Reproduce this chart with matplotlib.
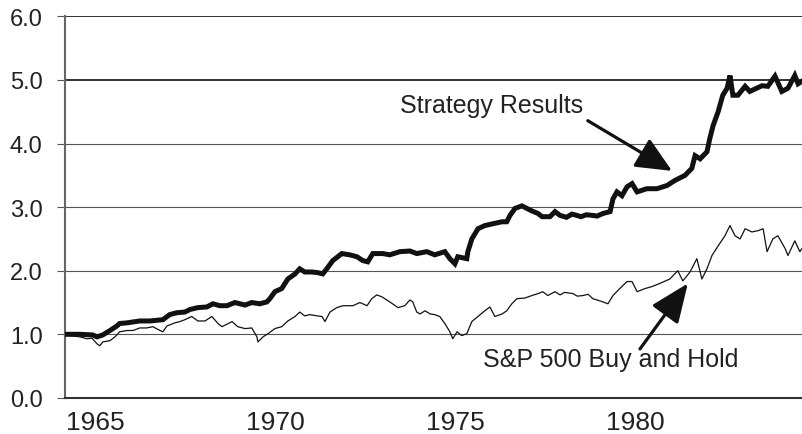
import matplotlib
matplotlib.use("Agg")
import matplotlib.pyplot as plt

# growth of $1, weekly closes sampled by hand
strat_year = [1964.17, 1964.58, 1964.94, 1965.06, 1965.22, 1965.42, 1965.61, 1965.69,
              1965.89, 1966.25, 1966.53, 1966.89, 1967.08, 1967.28, 1967.50, 1967.64,
              1967.86, 1968.11, 1968.28, 1968.47, 1968.67, 1968.89, 1969.17, 1969.36,
              1969.58, 1969.78, 1969.86, 1970.00, 1970.19, 1970.36, 1970.56, 1970.69,
              1970.83, 1971.03, 1971.19, 1971.33, 1971.44, 1971.61, 1971.86, 1972.08,
              1972.28, 1972.44, 1972.58, 1972.72, 1973.00, 1973.19, 1973.47, 1973.75,
              1973.94, 1974.22, 1974.44, 1974.72, 1974.86, 1975.00, 1975.08, 1975.33,
              1975.36, 1975.47, 1975.64, 1975.83, 1976.06, 1976.31, 1976.44, 1976.53,
              1976.67, 1976.86, 1977.14, 1977.31, 1977.42, 1977.64, 1977.78, 1977.92,
              1978.10, 1978.25, 1978.39, 1978.50, 1978.65, 1978.83, 1978.95, 1979.11,
              1979.31, 1979.39, 1979.50, 1979.64, 1979.78,
              1979.92, 1980.06, 1980.33, 1980.61, 1980.89, 1981.11, 1981.39, 1981.58,
              1981.67, 1981.81, 1982.00, 1982.08, 1982.17, 1982.31, 1982.44, 1982.56,
              1982.64, 1982.72, 1982.86, 1983.06, 1983.19, 1983.53, 1983.69, 1983.89,
              1984.08, 1984.25, 1984.44, 1984.53, 1984.64]
strat_value = [1.00, 1.00, 0.99, 0.96, 0.99, 1.06, 1.13, 1.17,
               1.18, 1.21, 1.21, 1.23, 1.31, 1.34, 1.35, 1.39,
               1.42, 1.43, 1.48, 1.45, 1.45, 1.50, 1.46, 1.50,
               1.48, 1.51, 1.56, 1.67, 1.72, 1.87, 1.95, 2.03,
               1.98, 1.98, 1.97, 1.95, 2.03, 2.16, 2.27, 2.25,
               2.22, 2.16, 2.14, 2.27, 2.27, 2.25, 2.30, 2.31,
               2.27, 2.30, 2.25, 2.30, 2.19, 2.11, 2.22, 2.19,
               2.30, 2.50, 2.66, 2.71, 2.74, 2.77, 2.77, 2.87,
               2.98, 3.02, 2.94, 2.90, 2.85, 2.85, 2.93, 2.87,
               2.84, 2.89, 2.87, 2.85, 2.88, 2.87, 2.86, 2.90,
               2.93, 3.13, 3.24, 3.18, 3.32,
               3.37, 3.24, 3.29, 3.29, 3.34, 3.42, 3.50, 3.61,
               3.81, 3.76, 3.87, 4.08, 4.28, 4.50, 4.76, 4.87,
               5.07, 4.76, 4.76, 4.90, 4.82, 4.91, 4.90, 5.06,
               4.82, 4.87, 5.07, 4.94, 4.98]

spx_year = [1964.17, 1964.31, 1964.58, 1964.78, 1964.92, 1965.06, 1965.14, 1965.22,
            1965.42, 1965.56, 1965.69, 1965.89, 1966.06, 1966.25, 1966.44, 1966.61,
            1966.81, 1966.89, 1967.00, 1967.22, 1967.36, 1967.50, 1967.69, 1967.86,
            1968.06, 1968.25, 1968.42, 1968.53, 1968.81, 1968.97, 1969.17, 1969.36,
            1969.50, 1969.53, 1969.67, 1969.81, 1970.00, 1970.19, 1970.36, 1970.56,
            1970.69, 1970.83, 1970.97, 1971.17, 1971.31, 1971.39, 1971.53, 1971.72,
            1971.89, 1972.17, 1972.36, 1972.56, 1972.69, 1972.83, 1972.97, 1973.19,
            1973.42, 1973.61, 1973.75, 1973.83, 1973.94, 1974.03, 1974.17, 1974.31,
            1974.44, 1974.58, 1974.72, 1974.86, 1974.94, 1975.06, 1975.19, 1975.33,
            1975.47, 1975.64, 1975.83, 1975.97, 1976.11, 1976.31, 1976.44, 1976.58,
            1976.72, 1976.94, 1977.14, 1977.31, 1977.44, 1977.58, 1977.78, 1977.92,
            1978.05, 1978.28, 1978.40, 1978.56, 1978.70, 1978.83, 1978.95, 1979.11,
            1979.25, 1979.39, 1979.58, 1979.78,
            1979.92, 1980.06, 1980.28, 1980.47, 1980.69, 1980.97, 1981.19, 1981.33,
            1981.53, 1981.72, 1981.86, 1982.00, 1982.14, 1982.31, 1982.50, 1982.64,
            1982.78, 1982.92, 1983.06, 1983.25, 1983.42, 1983.56, 1983.67, 1983.83,
            1983.97, 1984.17, 1984.25, 1984.44, 1984.58, 1984.64]
spx_value = [1.00, 0.98, 0.96, 0.93, 0.94, 0.85, 0.82, 0.88,
             0.90, 0.96, 1.04, 1.06, 1.06, 1.10, 1.10, 1.12,
             1.06, 1.04, 1.13, 1.18, 1.20, 1.23, 1.28, 1.21,
             1.21, 1.28, 1.17, 1.12, 1.20, 1.12, 1.09, 1.10,
             0.96, 0.88, 0.96, 1.01, 1.09, 1.12, 1.21, 1.28,
             1.35, 1.29, 1.31, 1.29, 1.28, 1.20, 1.35, 1.42,
             1.45, 1.45, 1.50, 1.45, 1.56, 1.62, 1.59, 1.51,
             1.42, 1.45, 1.54, 1.51, 1.35, 1.32, 1.37, 1.32,
             1.31, 1.28, 1.17, 1.04, 0.93, 1.04, 0.98, 1.01,
             1.20, 1.28, 1.37, 1.43, 1.28, 1.32, 1.37, 1.48,
             1.56, 1.57, 1.61, 1.64, 1.67, 1.61, 1.67, 1.62,
             1.66, 1.64, 1.60, 1.61, 1.63, 1.56, 1.54, 1.51,
             1.48, 1.61, 1.72, 1.83,
             1.83, 1.67, 1.72, 1.75, 1.80, 1.87, 2.00, 1.84,
             1.98, 2.19, 1.87, 2.03, 2.24, 2.39, 2.55, 2.71,
             2.55, 2.50, 2.66, 2.61, 2.63, 2.66, 2.30, 2.50,
             2.55, 2.35, 2.24, 2.47, 2.30, 2.35]

year_ticks = [1965, 1970, 1975, 1980]
value_ticks = [0.0, 1.0, 2.0, 3.0, 4.0, 5.0, 6.0]

plt.rcParams["font.family"] = ["Liberation Sans", "DejaVu Sans"]

fig = plt.figure(figsize=(8.02, 4.35), dpi=100)
ax = fig.add_axes([0.081, 0.083, 0.919, 0.877])

for v in value_ticks[1:]:
    ax.axhline(v, color="#555555" if v < 5 else "#222222",
               lw=0.8 if v < 5 else 1.3, zorder=1)

ax.plot(strat_year, strat_value, color="#111111", lw=3.6,
        solid_joinstyle="miter", zorder=3)
ax.plot(spx_year, spx_value, color="#111111", lw=0.9, zorder=2)

ax.set_xlim(1964.17, 1984.64)
ax.set_ylim(0, 6)
ax.set_xticks(year_ticks)
ax.set_xticklabels([str(y) for y in year_ticks], fontsize=19, color="#222222")
ax.set_yticks(value_ticks)
ax.set_yticklabels([f"{v:.1f}" for v in value_ticks], fontsize=17, color="#222222")
ax.tick_params(axis="x", length=0, pad=9)
ax.tick_params(axis="y", length=6, width=0.8, color="#555555", pad=10)

for side in ["top", "right"]:
    ax.spines[side].set_visible(False)
ax.spines["left"].set_color("#666666")
ax.spines["left"].set_linewidth(1.5)
ax.spines["bottom"].set_color("#333333")
ax.spines["bottom"].set_linewidth(1.5)

ax.text(1973.47, 4.60, "Strategy Results", fontsize=18, color="#222222",
        ha="left", va="center")
ax.annotate("", xy=(1981.03, 3.57), xytext=(1978.69, 4.36),
            arrowprops=dict(arrowstyle="-|>,head_length=1.1,head_width=0.5",
                            mutation_scale=20, lw=2.3, color="#111111",
                            shrinkA=0, shrinkB=0))

ax.text(1975.78, 0.61, "S&P 500 Buy and Hold", fontsize=18, color="#222222",
        ha="left", va="center")
ax.annotate("", xy=(1981.47, 1.80), xytext=(1980.14, 0.77),
            arrowprops=dict(arrowstyle="-|>,head_length=1.2,head_width=0.5",
                            mutation_scale=20, lw=2.3, color="#111111",
                            shrinkA=0, shrinkB=0))

fig.savefig("out.png", dpi=100)
